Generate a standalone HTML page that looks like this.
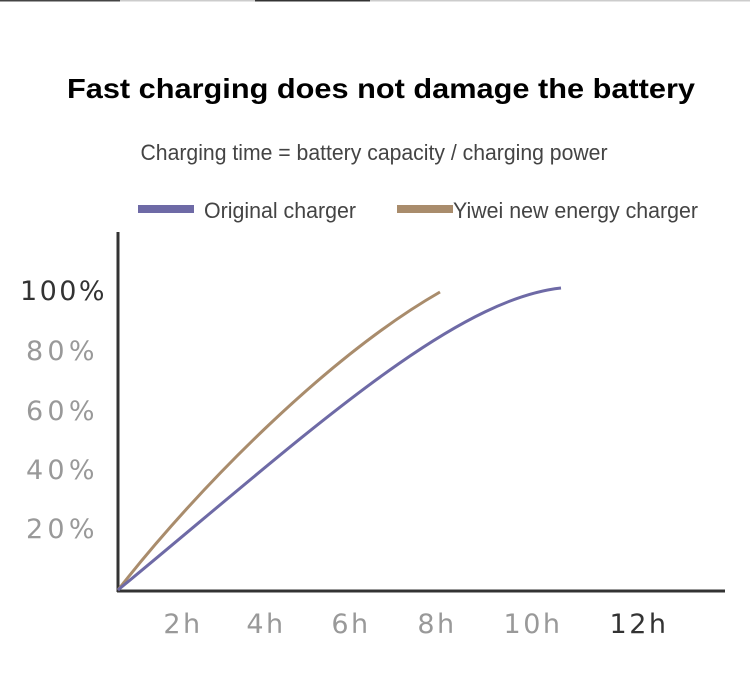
<!DOCTYPE html>
<html><head><style>
body{margin:0;width:750px;height:688px;background:#fff;overflow:hidden}
</style></head><body>
<svg width="750" height="688" viewBox="0 0 750 688" xmlns="http://www.w3.org/2000/svg">
<rect x="0" y="0" width="750" height="1.5" fill="#ccc"/>
<rect x="0" y="0" width="120" height="1.5" fill="#444"/>
<rect x="255" y="0" width="115" height="1.5" fill="#333"/>
<text x="381" y="98" text-anchor="middle" font-family="Liberation Sans, sans-serif" font-weight="bold" font-size="28" fill="#000" textLength="628" lengthAdjust="spacingAndGlyphs">Fast charging does not damage the battery</text>
<text x="374" y="160" text-anchor="middle" font-family="Liberation Sans, sans-serif" font-size="22" fill="#444" textLength="467" lengthAdjust="spacingAndGlyphs">Charging time = battery capacity / charging power</text>
<rect x="138" y="205" width="56" height="8" fill="#6e6aa6"/>
<text x="204" y="218" font-family="Liberation Sans, sans-serif" font-size="22" fill="#444" textLength="152" lengthAdjust="spacingAndGlyphs">Original charger</text>
<rect x="397" y="205" width="56" height="8" fill="#a98c6c"/>
<text x="453" y="218" font-family="Liberation Sans, sans-serif" font-size="22" fill="#444" textLength="245" lengthAdjust="spacingAndGlyphs">Yiwei new energy charger</text>
<line x1="118" y1="232" x2="118" y2="592" stroke="#333" stroke-width="3"/>
<line x1="117" y1="591" x2="725" y2="591" stroke="#333" stroke-width="3"/>
<path d="M118,590 C200,485 330,355 440,292" fill="none" stroke="#a98c6c" stroke-width="3"/>
<path d="M118,590 C300,440 450,300 561,288" fill="none" stroke="#6e6aa6" stroke-width="3"/>
<g font-family="DejaVu Sans, sans-serif" font-size="27" letter-spacing="2.5">
<text x="20" y="300" fill="#333" textLength="87">100%</text>
<text x="26" y="360" fill="#999" textLength="71">80%</text>
<text x="26" y="420" fill="#999" textLength="71">60%</text>
<text x="26" y="479" fill="#999" textLength="71">40%</text>
<text x="26" y="538" fill="#999" textLength="71">20%</text>
<text x="183" y="633" text-anchor="middle" fill="#999">2h</text>
<text x="266" y="633" text-anchor="middle" fill="#999">4h</text>
<text x="351" y="633" text-anchor="middle" fill="#999">6h</text>
<text x="437" y="633" text-anchor="middle" fill="#999">8h</text>
<text x="533" y="633" text-anchor="middle" fill="#999">10h</text>
<text x="639" y="633" text-anchor="middle" fill="#333">12h</text>
</g>
</svg>
</body></html>
